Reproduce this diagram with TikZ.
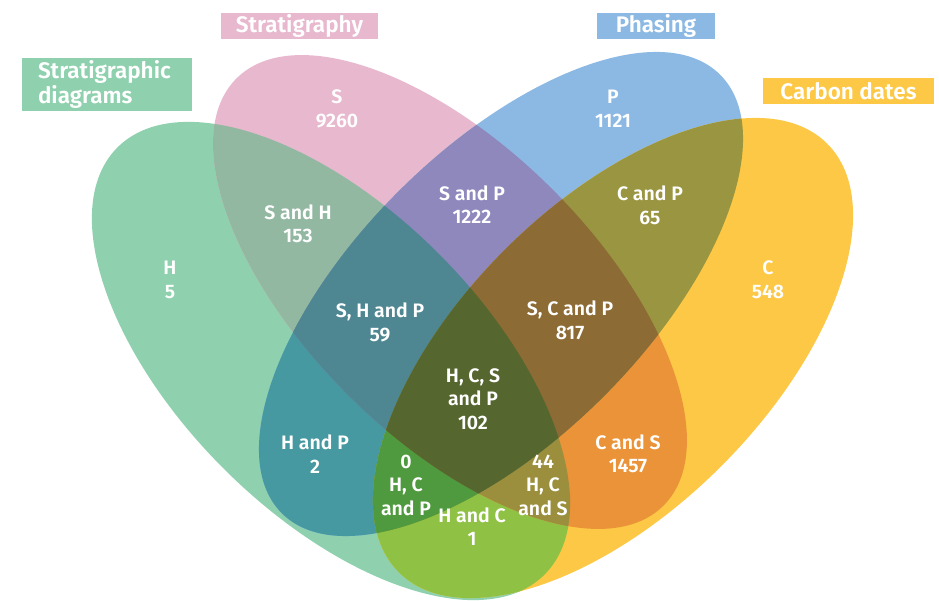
\documentclass[tikz,border=0pt]{standalone}
\usepackage{fontspec}
\setmainfont{Fira Sans}[BoldFont={Fira Sans SemiBold}]
\definecolor{cH}{HTML}{8FD1AE}
\definecolor{cS}{HTML}{E8B8CE}
\definecolor{cP}{HTML}{8CB9E3}
\definecolor{cC}{HTML}{FDC845}
\definecolor{cHS}{HTML}{93B8A2}
\definecolor{cSP}{HTML}{8E88BC}
\definecolor{cCP}{HTML}{9A9541}
\definecolor{cHP}{HTML}{4699A1}
\definecolor{cCS}{HTML}{EB9339}
\definecolor{cHC}{HTML}{8FC244}
\definecolor{cHSP}{HTML}{4E8792}
\definecolor{cSCP}{HTML}{8C6B35}
\definecolor{cHCP}{HTML}{4F9A3E}
\definecolor{cHCS}{HTML}{9B8F3E}
\definecolor{cAll}{HTML}{56662F}
\newcommand\pathH{(331,239) ellipse [x radius=302, y radius=152, rotate=-45]}
\newcommand\pathS{(450,308) ellipse [x radius=302, y radius=145, rotate=-45]}
\newcommand\pathP{(501,306) ellipse [x radius=310, y radius=145, rotate=45]}
\newcommand\pathC{(613,242) ellipse [x radius=303, y radius=153, rotate=45]}
\begin{document}
\begin{tikzpicture}[x=1pt,y=1pt,
  lab/.style={text=white,font=\bfseries\fontsize{19.5}{23.5}\selectfont,align=center,inner sep=0pt},
  titlebox/.style={fill=#1,text=white,font=\bfseries\fontsize{22.5}{25}\selectfont,inner xsep=0pt,inner ysep=0pt}]
\useasboundingbox (0,0) rectangle (939,600);
% single sets
\fill[cH] \pathH;
\fill[cS] \pathS;
\fill[cP] \pathP;
\fill[cC] \pathC;
% pairs
\begin{scope}\clip \pathH; \fill[cHS] \pathS; \end{scope}
\begin{scope}\clip \pathH; \fill[cHP] \pathP; \end{scope}
\begin{scope}\clip \pathH; \fill[cHC] \pathC; \end{scope}
\begin{scope}\clip \pathS; \fill[cSP] \pathP; \end{scope}
\begin{scope}\clip \pathS; \fill[cCS] \pathC; \end{scope}
\begin{scope}\clip \pathP; \fill[cCP] \pathC; \end{scope}
% triples
\begin{scope}\clip \pathH; \clip \pathS; \fill[cHSP] \pathP; \end{scope}
\begin{scope}\clip \pathH; \clip \pathS; \fill[cHCS] \pathC; \end{scope}
\begin{scope}\clip \pathH; \clip \pathP; \fill[cHCP] \pathC; \end{scope}
\begin{scope}\clip \pathS; \clip \pathP; \fill[cSCP] \pathC; \end{scope}
% all four
\begin{scope}\clip \pathH; \clip \pathS; \clip \pathP; \fill[cAll] \pathC; \end{scope}
% title boxes
\node[titlebox=cH, minimum width=170pt, minimum height=53pt, text width=138pt, inner xsep=16pt, align=left] (tH) at (107,515.5) {Stratigraphic\\diagrams};
\node[titlebox=cS, minimum width=157pt, minimum height=26pt] (tS) at (299.5,574) {Stratigraphy};
\node[titlebox=cP, minimum width=118pt, minimum height=26pt] (tP) at (656,574) {Phasing};
\node[titlebox=cC, minimum width=171pt, minimum height=26pt] (tC) at (848.5,509) {Carbon dates};
% region labels
\node[lab] (lS) at (337,491) {S\\9260};
\node[lab] (lP) at (613,491) {P\\1121};
\node[lab] (lSH) at (298,376) {S and H\\153};
\node[lab] (lSP) at (472,395.5) {S and P\\1222};
\node[lab] (lCP) at (650,394.5) {C and P\\65};
\node[lab] (lH) at (170,320) {H\\5};
\node[lab] (lC) at (768,320) {C\\548};
\node[lab] (lSHP) at (380,277.5) {S, H and P\\59};
\node[lab] (lSCP) at (570,279.5) {S, C and P\\817};
\node[lab] (lAll) at (473,201) {H, C, S\\and P\\102};
\node[lab] (lHP) at (315,146) {H and P\\2};
\node[lab] (lCS) at (628,146) {C and S\\1457};
\node[lab] (lHCP) at (406,115) {0\\H, C\\and P};
\node[lab] (lHCS) at (543,115) {44\\H, C\\and S};
\node[lab] (lHC) at (472,73.5) {H and C\\1};
\end{tikzpicture}
\end{document}
